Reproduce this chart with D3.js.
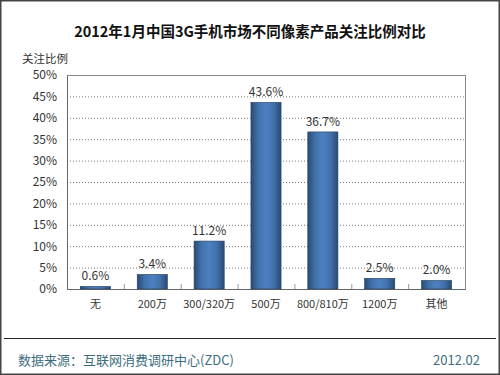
<!DOCTYPE html>
<html><head><meta charset="utf-8">
<script src="https://cdnjs.cloudflare.com/ajax/libs/d3/7.8.5/d3.min.js"></script>
<style>body{margin:0;background:#fff}svg{display:block}</style>
</head><body>
<script>
const categories = ["无","200万","300/320万","500万","800/810万","1200万","其他"];
const values = [0.6,3.4,11.2,43.6,36.7,2.5,2.0];
const yTicks = [0,5,10,15,20,25,30,35,40,45,50];
const title = "2012年1月中国3G手机市场不同像素产品关注比例对比";
const yLabel = "关注比例";
const source = "数据来源：互联网消费调研中心(ZDC)";
const dateText = "2012.02";

const W=500,H=375;
const svg=d3.select("body").append("svg").attr("width",W).attr("height",H);
const font="'Noto Sans CJK SC','Noto Sans',sans-serif";
const defs=svg.append("defs");
const g=defs.append("linearGradient").attr("id","bar").attr("x1",0).attr("x2",1).attr("y1",0).attr("y2",0);
g.append("stop").attr("offset","0%").attr("stop-color","#2a4a72");
g.append("stop").attr("offset","25%").attr("stop-color","#4272ad");
g.append("stop").attr("offset","50%").attr("stop-color","#4d80c0");
g.append("stop").attr("offset","75%").attr("stop-color","#4272ad");
g.append("stop").attr("offset","100%").attr("stop-color","#2a4a72");

// outer frame
svg.append("rect").attr("x",0.75).attr("y",0.75).attr("width",W-1.5).attr("height",H-1.5).attr("fill","#fff").attr("stroke","#444").attr("stroke-width",1.5);

const L=67,R=465,T=75,B=289;
const x=d3.scaleBand().domain(categories).range([L,R]).paddingInner(0.47).paddingOuter(0.235);
const y=d3.scaleLinear().domain([0,50]).range([B,T]);

svg.append("text").attr("x",250).attr("y",37).attr("text-anchor","middle").attr("font-family",font).attr("font-weight","bold").attr("font-size",14.5).attr("fill","#111").text(title);
svg.append("text").attr("x",45).attr("y",63).attr("text-anchor","middle").attr("font-family",font).attr("font-size",11.5).attr("fill","#333").text(yLabel);

// grid
svg.append("g").selectAll("line").data(yTicks.filter(d=>d>0&&d<50)).join("line")
 .attr("x1",L).attr("x2",R).attr("y1",d=>y(d)+0.5).attr("y2",d=>y(d)+0.5)
 .attr("stroke","#777").attr("stroke-dasharray","1,2").attr("stroke-width",1);
// plot frame
svg.append("rect").attr("x",L+0.5).attr("y",T+0.5).attr("width",R-L).attr("height",B-T).attr("fill","none").attr("stroke","#888");

// y axis
const ya=svg.append("g").attr("transform",`translate(${L},0)`).call(d3.axisLeft(y).tickValues(yTicks).tickFormat(d=>d+"%").tickSize(0).tickPadding(10));
ya.select(".domain").attr("stroke","#666");
ya.selectAll("text").attr("font-family",font).attr("font-size",12).attr("fill","#333");

// x axis
const xa=svg.append("g").attr("transform",`translate(0,${B})`).call(d3.axisBottom(x).tickSize(0).tickPadding(11));
xa.select(".domain").attr("stroke","#666");
xa.selectAll("text").attr("font-family",font).attr("font-size",11).attr("fill","#333");
// category separators ticks
const step=x.step();
svg.append("g").selectAll("line").data(categories.slice(1)).join("line")
 .attr("x1",d=>x(d)-x.paddingInner()*step/2+0.5).attr("x2",d=>x(d)-x.paddingInner()*step/2+0.5)
 .attr("y1",B-5).attr("y2",B).attr("stroke","#999");

// bars
svg.append("g").selectAll("rect").data(values).join("rect")
 .attr("x",(d,i)=>x(categories[i])).attr("width",x.bandwidth())
 .attr("y",d=>y(d)).attr("height",d=>B-y(d))
 .attr("fill","url(#bar)").attr("stroke","#23405f").attr("stroke-width",0.6);

svg.append("g").selectAll("text").data(values).join("text")
 .attr("x",(d,i)=>x(categories[i])+x.bandwidth()/2).attr("y",d=>y(d)-6)
 .attr("text-anchor","middle").attr("font-family",font).attr("font-size",12).attr("fill","#333")
 .text(d=>d.toFixed(1)+"%");

// footer
svg.append("line").attr("x1",4).attr("x2",496).attr("y1",338.5).attr("y2",338.5).attr("stroke","#222").attr("stroke-width",1.2);
svg.append("text").attr("x",18).attr("y",365).attr("font-family",font).attr("font-size",13).attr("fill","#3d6e80").text(source);
svg.append("text").attr("x",480).attr("y",365).attr("text-anchor","end").attr("font-family",font).attr("font-size",13).attr("fill","#3d6e80").text(dateText);
</script>
</body></html>
